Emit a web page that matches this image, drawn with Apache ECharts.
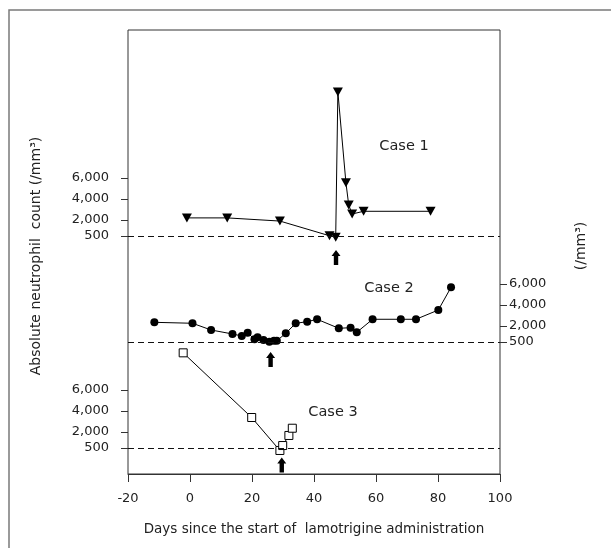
<!DOCTYPE html>
<html>
<head>
<meta charset="utf-8">
<script src="https://cdn.jsdelivr.net/npm/echarts@6/dist/echarts.min.js"></script>
<style>
  html, body { margin: 0; padding: 0; background: #fff; }
  #chart { width: 611px; height: 548px; }
</style>
</head>
<body>
<div id="chart"></div>
<script>
// 数据
var dayTicks = [-20, 0, 20, 40, 60, 80, 100];
var ancTicks = [500, 2000, 4000, 6000];

// Case 1
var days1 = [-1, 12, 29, 45, 47, 47.7, 50.3, 51.2, 52.3, 56, 77.6];
var anc1 = [2200, 2200, 1900, 500, 350, 14200, 5550, 3430, 2570, 2830, 2830];
// Case 2
var days2 = [-11.5, 0.8, 6.8, 13.7, 16.7, 18.6, 20.8, 21.8, 23.7, 25.6, 27.1, 28, 30.9, 34.1, 37.8, 41, 48, 51.8, 53.8, 58.9, 68, 72.9, 80.1, 84.2];
var anc2 = [2350, 2260, 1620, 1240, 1050, 1360, 730, 920, 670, 500, 600, 600, 1300, 2260, 2410, 2640, 1780, 1840, 1400, 2640, 2640, 2640, 3520, 5680];
// Case 3
var days3 = [-2.2, 19.9, 29, 29.9, 31.9, 33];
var anc3 = [9540, 3380, 240, 710, 1670, 2360];

// 箭头 (每个病例一个)
var arrowDays = [47.1, 26, 29.6];
var arrowLevel = [-1570, -1190, -1140];

var threshold = 500;
var caseNames = ['Case 1', 'Case 2', 'Case 3'];

(function() {
    var myChart = echarts.init(document.getElementById('chart'));
    var font = 'DejaVu Sans';
    var txt = '#222';
    var arrowPath = 'path://M4.5,0 L9,6 L6.7,6 L6.7,15 L2.3,15 L2.3,6 L0,6 Z';

    function pairs(xs, ys) {
        return xs.map(function(x, i) { return [x, ys[i]]; });
    }
    function fmt(v) {
        return v >= 1000 ? (v / 1000) + ',000' : String(v);
    }
    function hiddenX(idx) {
        return { type: 'value', gridIndex: idx, min: -20, max: 100, show: false };
    }
    function panelY(idx, max, pos) {
        return {
            type: 'value', gridIndex: idx, min: 0, max: max, position: pos,
            splitLine: { show: false },
            axisLine: { show: false, onZero: false },
            axisTick: { show: true, length: 7, customValues: ancTicks, lineStyle: { color: '#333' } },
            axisLabel: {
                customValues: ancTicks, formatter: fmt, margin: pos === 'right' ? 9 : 19,
                color: txt, fontSize: 13, fontFamily: font
            }
        };
    }
    function dashed() {
        return {
            silent: true, symbol: 'none', label: { show: false },
            lineStyle: { color: '#111', type: [6, 4], width: 1.2 },
            data: [{ yAxis: threshold }]
        };
    }
    function arrow(idx) {
        return {
            type: 'scatter', xAxisIndex: idx + 1, yAxisIndex: idx + 1, clip: false,
            symbol: arrowPath, symbolSize: [9, 15], itemStyle: { color: '#000', opacity: 1 },
            data: [[arrowDays[idx], arrowLevel[idx]]], silent: true, z: 5
        };
    }

    var option = {
        animation: false,
        backgroundColor: '#fff',
        grid: [
            { left: 128, top: 30, width: 372, height: 444, show: true, borderColor: '#333', borderWidth: 1, outerBoundsMode: 'none' },
            { left: 128, top: 31, width: 372, height: 210, outerBoundsMode: 'none' },
            { left: 128, top: 242, width: 372, height: 105, outerBoundsMode: 'none' },
            { left: 128, top: 348, width: 372, height: 105, outerBoundsMode: 'none' }
        ],
        xAxis: [
            {
                type: 'value', gridIndex: 0, min: -20, max: 100, interval: 20,
                splitLine: { show: false },
                axisLine: { onZero: false, lineStyle: { color: '#333' } },
                axisTick: { length: 8, lineStyle: { color: '#333' } },
                axisLabel: { margin: 18, color: txt, fontSize: 13, fontFamily: font },
                name: 'Days since the start of  lamotrigine administration',
                nameLocation: 'middle', nameGap: 48,
                nameTextStyle: { color: txt, fontSize: 13.5, fontFamily: font }
            },
            hiddenX(1), hiddenX(2), hiddenX(3)
        ],
        yAxis: [
            { type: 'value', gridIndex: 0, min: 0, max: 1, show: false },
            panelY(1, 20000, 'left'),
            panelY(2, 10000, 'right'),
            panelY(3, 10000, 'left')
        ],
        graphic: [
            { type: 'rect', silent: true, shape: { x: 9, y: 10, width: 640, height: 600 },
              style: { fill: 'none', stroke: '#7a7a7a', lineWidth: 1.5 } },
            { type: 'text', x: 404, y: 146, style: { text: caseNames[0], font: '14.5px ' + font, fill: txt, align: 'center', verticalAlign: 'middle' } },
            { type: 'text', x: 389, y: 288, style: { text: caseNames[1], font: '14.5px ' + font, fill: txt, align: 'center', verticalAlign: 'middle' } },
            { type: 'text', x: 333, y: 412, style: { text: caseNames[2], font: '14.5px ' + font, fill: txt, align: 'center', verticalAlign: 'middle' } },
            { type: 'text', x: 36, y: 256, rotation: Math.PI / 2,
              style: { text: 'Absolute neutrophil  count (/mm³)', font: '14px ' + font, fill: txt, align: 'center', verticalAlign: 'middle' } },
            { type: 'text', x: 581, y: 246, rotation: Math.PI / 2,
              style: { text: '(/mm³)', font: '14px ' + font, fill: txt, align: 'center', verticalAlign: 'middle' } }
        ],
        series: [
            {
                name: caseNames[0], type: 'line', xAxisIndex: 1, yAxisIndex: 1, clip: false,
                data: pairs(days1, anc1),
                symbol: 'triangle', symbolRotate: 180, symbolSize: [10, 9],
                itemStyle: { color: '#000' }, lineStyle: { color: '#000', width: 1 },
                markLine: dashed()
            },
            {
                name: caseNames[1], type: 'line', xAxisIndex: 2, yAxisIndex: 2, clip: false,
                data: pairs(days2, anc2),
                symbol: 'circle', symbolSize: 8,
                itemStyle: { color: '#000' }, lineStyle: { color: '#000', width: 1 },
                markLine: dashed()
            },
            {
                name: caseNames[2], type: 'line', xAxisIndex: 3, yAxisIndex: 3, clip: false,
                data: pairs(days3, anc3),
                symbol: 'rect', symbolSize: 8, showAllSymbol: true,
                itemStyle: { color: '#fff', borderColor: '#000', borderWidth: 1 },
                lineStyle: { color: '#000', width: 1 },
                markLine: dashed()
            },
            arrow(0), arrow(1), arrow(2)
        ]
    };
    myChart.setOption(option);
})();
</script>
</body>
</html>
